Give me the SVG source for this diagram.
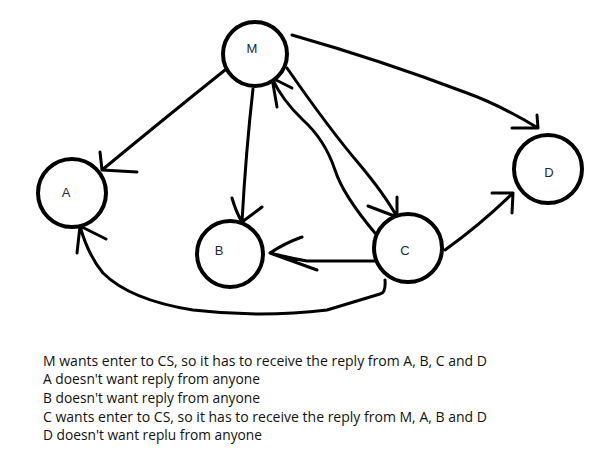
<svg xmlns="http://www.w3.org/2000/svg" width="610" height="471" viewBox="0 0 610 471">
<style>
.node circle{fill:#fff;stroke:#000;stroke-width:4}
.node text{font-family:"Liberation Sans",Arial,sans-serif;font-size:13px;fill:#1e2640;text-anchor:middle}
.edge{fill:none;stroke:#000;stroke-width:3;stroke-linecap:round;stroke-linejoin:round}
.note{font-family:"Open Sans","Noto Sans",sans-serif;font-size:14.5px;fill:#111}
</style>
<rect width="610" height="471" fill="#fff"/>
<g id="connectors">
  <!-- M -> A -->
  <path class="edge" d="M225,70 Q165,118 102,170 M100,152 L102,170 L137,172"/>
  <!-- M -> B -->
  <path class="edge" d="M253,89 Q246,150 242,222 M232,198 Q236,212 242,222 L262,207"/>
  <!-- C -> B -->
  <path class="edge" d="M375,261 L307,261 Q290,258 270,253 M302,237 Q285,243 270,253 Q295,262 317,270"/>
  <!-- C -> A -->
  <path class="edge" d="M385,280 Q386,293 380,294 Q360,300 327,310 Q260,318 193,310 Q130,300 103,273 Q88,255 80,226 M77,253 L80,226 L106,239"/>
  <!-- M -> C -->
  <path class="edge" d="M287,68 Q330,130 360,165 Q385,195 397,217 M397,197 L397,217 L368,206"/>
  <!-- C -> M -->
  <path class="edge" d="M375,233 Q343,195 335,170 Q325,140 303,120 Q282,100 272,78 M277,107 L272,78 L292,88"/>
  <!-- M -> D -->
  <path class="edge" d="M292,35 Q380,60 467,93 Q500,105 538,128 M537,115 L538,128 L512,128"/>
  <!-- C -> D -->
  <path class="edge" d="M445,250 Q480,225 513,193 M492,193 L513,193 L512,213"/>
</g>
<g id="node-M" class="node"><circle cx="255" cy="54" r="32"/><text x="252" y="53">M</text></g>
<g id="node-A" class="node"><circle cx="72" cy="193" r="34"/><text x="66" y="197">A</text></g>
<g id="node-B" class="node"><circle cx="230" cy="254" r="33"/><text x="219" y="255">B</text></g>
<g id="node-C" class="node"><circle cx="408" cy="248" r="34"/><text x="405" y="255">C</text></g>
<g id="node-D" class="node"><circle cx="548" cy="169" r="34"/><text x="549" y="177">D</text></g>
<g id="notes">
  <text class="note" x="43" y="365.5" textLength="444" lengthAdjust="spacingAndGlyphs">M wants enter to CS, so it has to receive the reply from A, B, C and D</text>
  <text class="note" x="43" y="384" textLength="217" lengthAdjust="spacingAndGlyphs">A doesn't want reply from anyone</text>
  <text class="note" x="43" y="403" textLength="217" lengthAdjust="spacingAndGlyphs">B doesn't want reply from anyone</text>
  <text class="note" x="43" y="421.5" textLength="444" lengthAdjust="spacingAndGlyphs">C wants enter to CS, so it has to receive the reply from M, A, B and D</text>
  <text class="note" x="43" y="440" textLength="219" lengthAdjust="spacingAndGlyphs">D doesn't want replu from anyone</text>
</g>
</svg>
